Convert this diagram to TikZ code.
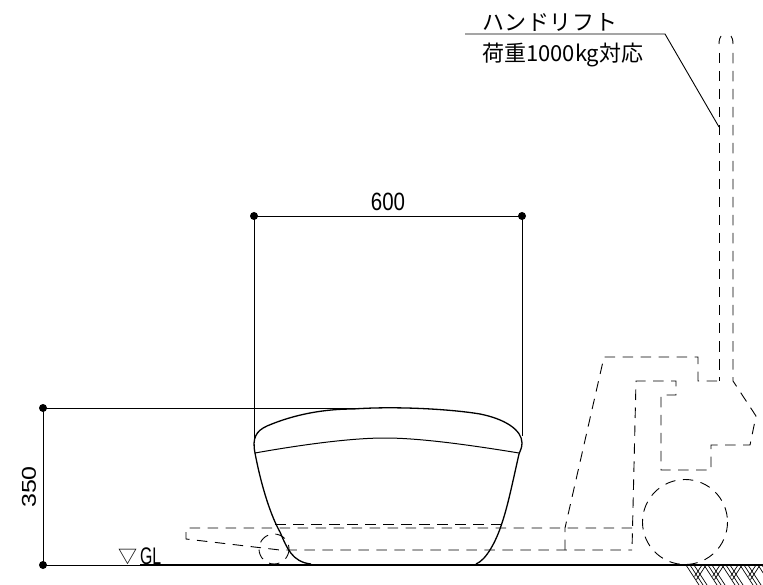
\documentclass[tikz,border=0pt]{standalone}
\usepackage{fontspec}
\setmainfont{Liberation Sans}
\newfontfamily\cjk{Noto Sans CJK JP}
\tikzset{
  thinline/.style={line width=0.9pt,black},
  outline/.style={line width=1.3pt,black,line join=round},
  hidden/.style={line width=0.9pt,black,dash pattern=on 10.5pt off 7.5pt},
  capline/.style={line width=0.9pt,black},
  ground/.style={line width=1.7pt,black},
  hatchline/.style={line width=0.7pt,black},
  dot/.style={circle,fill=black,inner sep=0pt,minimum size=8pt},
  lbl/.style={inner sep=0pt,font=\fontsize{25}{25}\selectfont},
}
\begin{document}
\begin{tikzpicture}[x=1pt,y=-1pt]
\useasboundingbox (0,0) rectangle (763,585);
% dimension 600
\node[dot] (d1) at (254,216) {};
\node[dot] (d2) at (522,216) {};
\coordinate (d1e) at (254,441);
\coordinate (d2e) at (522,436);
\draw[thinline] (d1.center) -- (d2.center);
\draw[thinline] (d1.center) -- (d1e);
\draw[thinline] (d2.center) -- (d2e);
\node[lbl,xscale=.82] (t600) at (388,202) {600};
% dimension 350
\node[dot] (d3) at (43,408) {};
\node[dot] (d4) at (43,565) {};
\coordinate (d3e) at (357,408);
\coordinate (gs) at (140,565);
\coordinate (ge) at (763,565);
\draw[thinline] (d3.center) -- (d3e);
\draw[thinline] (d3.center) -- (d4.center) -- (gs);
\draw[ground] (gs) -- (ge);
\node[lbl,xscale=.8,rotate=90] (t350) at (29,487) {350};
% GL
\node[inner sep=0pt,font=\cjk\fontsize{19}{19}\selectfont] (tri) at (128,557) {▽};
\node[lbl,font=\fontsize{24}{24}\selectfont,xscale=.66,anchor=west] (tgl) at (140,556) {GL};
% bag
\draw[outline]
 (255,453) .. controls (252,438) and (256,431) .. (267,426)
 .. controls (295,414) and (325,409) .. (353,409)
 .. controls (395,406) and (450,409) .. (480,414)
 .. controls (505,419) and (522,430) .. (522,443)
 .. controls (522,448) and (520,451) .. (519,454)
 .. controls (512,485) and (508,505) .. (502,523)
 .. controls (496,542) and (486,560) .. (476,564);
\draw[outline]
 (255,453) .. controls (262,490) and (272,518) .. (280,532)
 .. controls (287,548) and (292,562) .. (311,564);
\draw[line width=1pt] (255,453) .. controls (300,445) and (350,438) .. (385,438)
 .. controls (420,438) and (470,445) .. (519,453);
% fork
\draw[hidden] (632,528) -- (186,528) -- (186,539) -- (280,550) -- (632,550);
\draw[hidden] (275,524) -- (502,524);
\draw[hidden] (274,549) circle[radius=15];
% lift body
\draw[hidden] (565,550) -- (565,528) -- (604,357) -- (698,357) -- (698,381) -- (719,381);
\draw[hidden] (719,53) -- (719,381);
\draw[hidden] (733,53) -- (733,381) -- (756,416) -- (750,445)
 -- (711,445) -- (711,470) -- (661,470) -- (661,395) -- (676,395) -- (676,381) -- (636,381) -- (632,550);
\draw[capline] (719,44) .. controls (719,40) and (720,37) .. (721,36);
\draw[capline] (733,44) .. controls (733,40) and (732,37) .. (731,36);
\draw[hidden] (685,522) circle[radius=42.5];
% leader
\coordinate (l0) at (465,34);
\coordinate (l1) at (665,34);
\coordinate (l2) at (719,127);
\draw[thinline] (l0) -- (l1) -- (l2);
\node[inner sep=0pt,font=\cjk\fontsize{22}{22}\selectfont,anchor=west] (t1) at (482,22) {ハ\kern.6pt ン\kern.6pt ド\kern.6pt リ\kern.6pt フ\kern.6pt ト};
\node[inner sep=0pt,font=\cjk\fontsize{22}{22}\selectfont,anchor=west] (t2) at (482,55) {荷重1000kg対応};
% hatch
\begin{scope}
\clip (686,566) rectangle (763,585);
\foreach \a in {686,704,722,740,758}{
  \foreach \d in {0,4,8}{
    \draw[hatchline] (\a+\d,565) -- (\a+\d+13,585);
  }
  \draw[hatchline] (\a+16,565) -- (\a+8.5,576.5);
  \draw[hatchline] (\a+20,565) -- (\a+10.5,579.6);
}
\end{scope}
\end{tikzpicture}
\end{document}
